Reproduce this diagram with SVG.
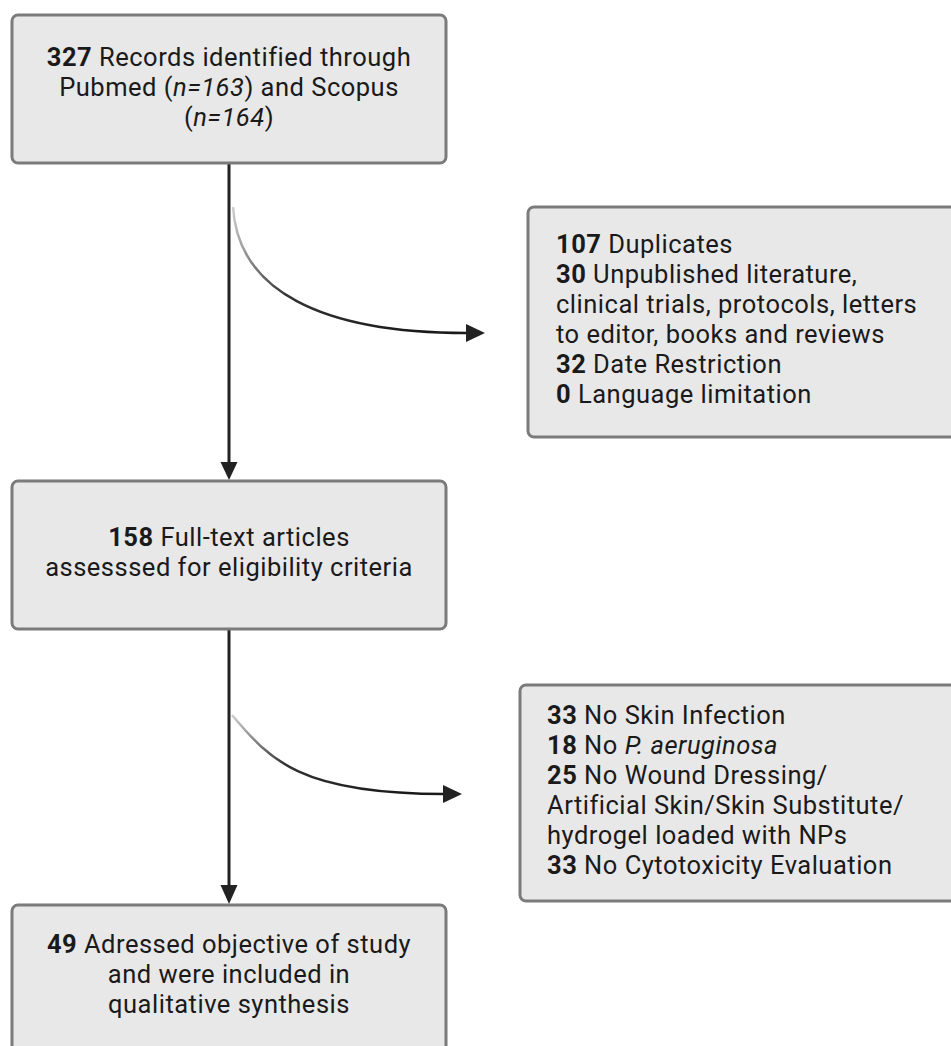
<svg xmlns="http://www.w3.org/2000/svg" width="951" height="1046" viewBox="0 0 951 1046">
<defs>
<style>
.box{fill:#e8e8e8;stroke:#7b7b7b;stroke-width:3}
text{font-family:Roboto,"Liberation Sans",sans-serif;font-size:25.5px;letter-spacing:0.5px;fill:#1a1a1a}
.c{text-anchor:middle}
.b{font-weight:bold}
.i{font-style:italic}
.main{stroke:#222;stroke-width:3;fill:none}
</style>
<linearGradient id="g1" x1="0" y1="0" x2="1" y2="0.3">
<stop offset="0" stop-color="#cfcfcf"/>
<stop offset="0.4" stop-color="#333"/>
<stop offset="1" stop-color="#1a1a1a"/>
</linearGradient>
</defs>
<g id="connectors">
<path class="main" d="M229,164 L229,462"/>
<path d="M220.5,462 L237.5,462 L229,480 Z" fill="#222"/>
<path class="main" d="M229,629 L229,885"/>
<path d="M220.5,885 L237.5,885 L229,904 Z" fill="#222"/>
<path d="M233,207 C238,290 320,333 467,333" fill="none" stroke="url(#g1)" stroke-width="2.5"/>
<path d="M466,324 L485,333 L466,342 Z" fill="#222"/>
<path d="M232,715 C270,760 300,794 445,794" fill="none" stroke="url(#g1)" stroke-width="2.5"/>
<path d="M443,785 L462,794 L443,803 Z" fill="#222"/>
</g>
<g id="node1">
<rect class="box" x="12" y="15" width="434" height="148" rx="6"/>
<text class="c" x="229" y="66"><tspan class="b">327</tspan> Records identified through</text>
<text class="c" x="229" y="96">Pubmed (<tspan class="i">n=163</tspan>) and Scopus</text>
<text class="c" x="229" y="126">(<tspan class="i">n=164</tspan>)</text>
</g>
<g id="node2">
<rect class="box" x="528" y="207" width="430" height="230" rx="6"/>
<text x="556" y="253"><tspan class="b">107</tspan> Duplicates</text>
<text x="556" y="283"><tspan class="b">30</tspan> Unpublished literature,</text>
<text x="556" y="313">clinical trials, protocols, letters</text>
<text x="556" y="343">to editor, books and reviews</text>
<text x="556" y="373"><tspan class="b">32</tspan> Date Restriction</text>
<text x="556" y="403"><tspan class="b">0</tspan> Language limitation</text>
</g>
<g id="node3">
<rect class="box" x="12" y="481" width="434" height="148" rx="6"/>
<text class="c" x="229" y="546"><tspan class="b">158</tspan> Full-text articles</text>
<text class="c" x="229" y="576">assesssed for eligibility criteria</text>
</g>
<g id="node4">
<rect class="box" x="520" y="685" width="440" height="216" rx="6"/>
<text x="547" y="724"><tspan class="b">33</tspan> No Skin Infection</text>
<text x="547" y="754"><tspan class="b">18</tspan> No <tspan class="i">P. aeruginosa</tspan></text>
<text x="547" y="784"><tspan class="b">25</tspan> No Wound Dressing/</text>
<text x="547" y="814">Artificial Skin/Skin Substitute/</text>
<text x="547" y="844">hydrogel loaded with NPs</text>
<text x="547" y="874"><tspan class="b">33</tspan> No Cytotoxicity Evaluation</text>
</g>
<g id="node5">
<rect class="box" x="12" y="905" width="434" height="160" rx="6"/>
<text class="c" x="229" y="953"><tspan class="b">49</tspan> Adressed objective of study</text>
<text class="c" x="229" y="983">and were included in</text>
<text class="c" x="229" y="1013">qualitative synthesis</text>
</g>
</svg>
